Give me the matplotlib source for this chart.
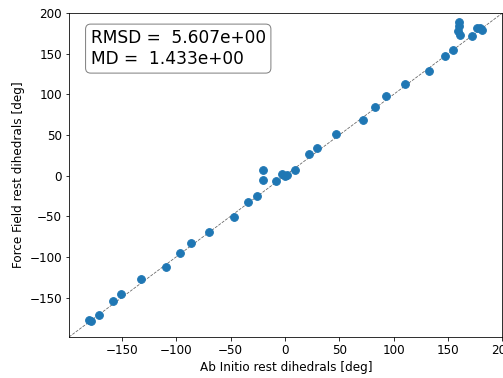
import numpy as np
import matplotlib
matplotlib.use("Agg")
import matplotlib.pyplot as plt

# rest dihedrals [deg]
ab_initio = [-180, -178, -171, -158, -151, -132, -109, -96.5, -86, -70,
             -47, -33.5, -26, -20.6, -20.6, -8, -3, 0, 2, 9,
             22.3, 29.4, 47.4, 72, 83, 93, 110.6, 132.6, 147.3, 154.7,
             160.2, 159.6, 159.3, 160.8, 172.4, 177, 181.6, 179]
force_field = [-178, -179, -171, -154, -145, -127, -112, -95, -83, -69,
               -51, -33, -24.6, 6.5, -5, -7, 2, -1, 1, 7.4,
               26.7, 34, 51.7, 69, 85, 97.6, 112.8, 128.4, 147.7, 155,
               188.7, 183.8, 177.6, 173.5, 172.3, 181.8, 179.7, 181]

rmsd = 5.607
md = 1.433
lims = [-198.5, 200]

plt.rcParams['font.size'] = 12

fig = plt.figure(figsize=(503 / 72, 378 / 72), dpi=72)
ax = fig.add_axes([69 / 503, (378 - 337) / 378, 433.5 / 503, 324 / 378])

ax.plot(lims, lims, 'k--', lw=0.8, alpha=0.6, zorder=0)
ax.scatter(ab_initio, force_field, s=60, color='#1f77b4')
ax.set_xlim(lims)
ax.set_ylim(lims)
ax.set_xlabel("Ab Initio rest dihedrals [deg]")
ax.set_ylabel("Force Field rest dihedrals [deg]")

txt = "RMSD =  %.3e\nMD =  %.3e" % (rmsd, md)
ax.text(0.05, 0.95, txt, transform=ax.transAxes, fontsize=17, va='top',
        bbox=dict(boxstyle='round', facecolor='white', alpha=0.5))

fig.savefig("out.png", dpi=72)
